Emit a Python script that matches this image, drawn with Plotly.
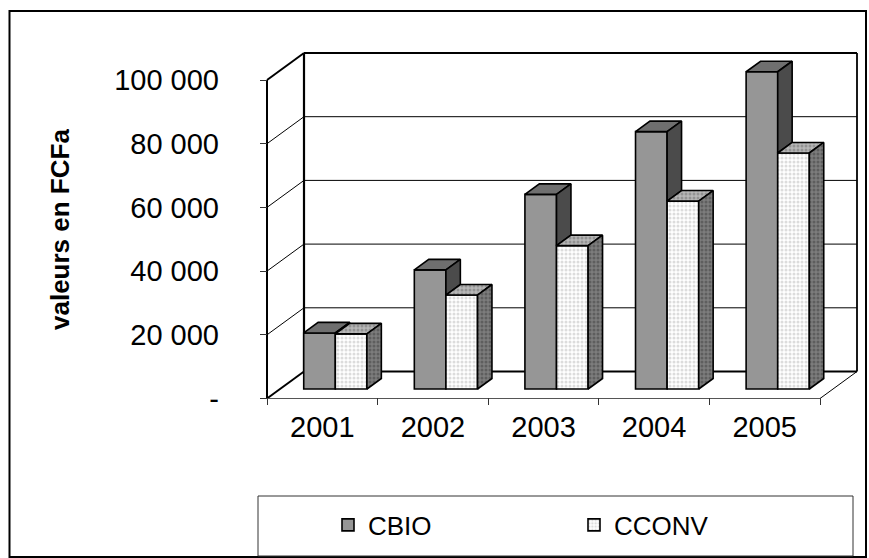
import plotly.graph_objects as go

# ---- data -------------------------------------------------------------
years = ["2001", "2002", "2003", "2004", "2005"]
series_names = ["CBIO", "CCONV"]
cbio = [17600, 37400, 61100, 80800, 99600]
cconv = [17300, 29500, 45000, 59000, 74100]
y_ticks = [0, 20000, 40000, 60000, 80000, 100000]
y_tick_text = ["-", "20 000", "40 000", "60 000", "80 000", "100 000"]

# ---- geometry of the oblique 3-D frame (pixels) -------------------------
W, H = 869, 558
X0_PX, Y0_PX = 267, 398.5          # front-left corner of the floor
CAT_PX = 110.6                     # one category on the front edge
UNIT_PX = 318.5 / 100000           # pixels per FCFa
DEPTH_PX = (37, 27)                # offset of the back wall
L, R, T, B = 260, 864, 48, 405     # plot area

DX = DEPTH_PX[0] / CAT_PX          # depth offset in category units
DY = DEPTH_PX[1] / UNIT_PX         # depth offset in value units
x_range = [(L - X0_PX) / CAT_PX, (R - X0_PX) / CAT_PX]
y_range = [(Y0_PX - B) / UNIT_PX, (Y0_PX - T) / UNIT_PX]

F_FRONT = 0.352                    # depth of the bar front faces
F_BACK = F_FRONT + 0.39            # depth of the bar back faces
BAR_W = 1 / 3.5                    # bar width (gap width 150 %)
N = len(years)
VMAX = 100000


def px_to_paper(xp, yp):
    return (xp - L) / (R - L), (B - yp) / (B - T)


def proj(x, y, f):
    return x + f * DX, y + f * DY


FONT = "Liberation Sans, Arial, sans-serif"
TICK_SIZE = 29
EDGE = "black"

styles = {
    "CBIO": dict(front="#969696", top="#6f6f6f", side="#4b4b4b", pattern=None),
    "CCONV": dict(front="#ffffff", top="#b8b8b8", side="#7d7d7d",
                  pattern=dict(front="#dcdcdc", top="#929292", side="#5e5e5e")),
}

fig = go.Figure()

values = {"CBIO": cbio, "CCONV": cconv}

# front faces (also used for the legend)
for s, name in enumerate(series_names):
    st = styles[name]
    xs = [i + 0.5 + (s - 0.5) * BAR_W + F_FRONT * DX for i in range(N)]
    marker = dict(color=st["front"], line=dict(color=EDGE, width=1.6))
    if st["pattern"]:
        marker["pattern"] = dict(shape=".", size=4, solidity=0.45,
                                 fgcolor=st["pattern"]["front"], bgcolor=st["front"],
                                 fillmode="replace")
    fig.add_trace(go.Bar(x=xs, y=values[name], base=F_FRONT * DY, width=BAR_W,
                         name=name, marker=marker, hoverinfo="skip"))

# top and side faces
for s, name in enumerate(series_names):
    st = styles[name]
    tops_x, tops_y, side_x, side_y = [], [], [], []
    for i in range(N):
        v = values[name][i]
        xl = i + 0.5 + (s - 1) * BAR_W
        xr = xl + BAR_W
        pts = [proj(xl, v, F_FRONT), proj(xr, v, F_FRONT),
               proj(xr, v, F_BACK), proj(xl, v, F_BACK), proj(xl, v, F_FRONT)]
        tops_x += [p[0] for p in pts] + [None]
        tops_y += [p[1] for p in pts] + [None]
        # only the part of the side that rises above the neighbour is visible
        lo = 0
        if s == 0:
            lo = min(v, cconv[i])
        if v > lo:
            pts = [proj(xr, lo, F_FRONT), proj(xr, v, F_FRONT),
                   proj(xr, v, F_BACK), proj(xr, lo, F_BACK), proj(xr, lo, F_FRONT)]
            side_x += [p[0] for p in pts] + [None]
            side_y += [p[1] for p in pts] + [None]
    for xs, ys, key in ((tops_x, tops_y, "top"), (side_x, side_y, "side")):
        kw = {}
        if st["pattern"]:
            kw["fillpattern"] = dict(shape=".", size=4, solidity=0.45,
                                     fgcolor=st["pattern"][key], bgcolor=st[key],
                                     fillmode="replace")
        fig.add_trace(go.Scatter(x=xs, y=ys, mode="lines", fill="toself",
                                 fillcolor=st[key], line=dict(color=EDGE, width=1.6),
                                 showlegend=False, hoverinfo="skip", **kw))

# ---- walls, floor and gridlines -----------------------------------------
shapes = []


def seg(p, q, width=1.0, color="black"):
    shapes.append(dict(type="line", xref="x", yref="y", layer="below",
                       x0=p[0], y0=p[1], x1=q[0], y1=q[1],
                       line=dict(color=color, width=width)))


for v in y_ticks[1:-1]:
    seg(proj(0, v, 0), proj(0, v, 1), 1)
    seg(proj(0, v, 1), proj(N, v, 1), 1)
# left wall
seg(proj(0, 0, 0), proj(0, VMAX, 0), 2)
seg(proj(0, VMAX, 0), proj(0, VMAX, 1), 2)
seg(proj(0, 0, 0), proj(0, 0, 1), 2)
# back wall
seg(proj(0, 0, 1), proj(0, VMAX, 1), 2.2)
seg(proj(0, VMAX, 1), proj(N, VMAX, 1), 2.2)
seg(proj(N, 0, 1), proj(N, VMAX, 1), 1.8)
seg(proj(0, 0, 1), proj(N, 0, 1), 2)
# floor
seg(proj(0, 0, 0), proj(N, 0, 0), 1.2, "#555555")
seg(proj(N, 0, 0), proj(N, 0, 1), 1)

# chart border and legend frame
bx0, by0 = px_to_paper(9.5, 11)
bx1, by1 = px_to_paper(866, 557)
shapes.append(dict(type="rect", xref="paper", yref="paper", x0=bx0, y0=by0, x1=bx1, y1=by1,
                   line=dict(color="black", width=2)))
lx0, ly0 = px_to_paper(258, 496)
lx1, ly1 = px_to_paper(853, 556)
shapes.append(dict(type="rect", xref="paper", yref="paper", x0=lx0, y0=ly0, x1=lx1, y1=ly1,
                   line=dict(color="#333333", width=1)))

tx, ty = px_to_paper(60, 229)
leg_x, leg_y = px_to_paper(328, 525)

fig.update_layout(
    width=W, height=H,
    margin=dict(l=L, r=W - R, t=T, b=H - B, autoexpand=False),
    paper_bgcolor="white", plot_bgcolor="white",
    font=dict(family=FONT, color="black", size=TICK_SIZE),
    shapes=shapes,
    barmode="overlay",
    showlegend=True,
    legend=dict(orientation="h", x=leg_x, y=leg_y, xanchor="left", yanchor="middle",
                bgcolor="rgba(0,0,0,0)", borderwidth=0, entrywidth=201,
                font=dict(family=FONT, size=26, color="black"), traceorder="normal"),
    annotations=[dict(text="<b>valeurs en FCFa</b>", xref="paper", yref="paper",
                      x=tx, y=ty, xanchor="center", yanchor="middle",
                      textangle=-90, showarrow=False,
                      font=dict(family=FONT, size=26, color="black"))],
    xaxis=dict(range=x_range, showgrid=False, zeroline=False, showline=False,
               tickmode="array", tickvals=[i + 0.5 for i in range(N)], ticktext=years,
               ticks="", ticklabelstandoff=2,
               minor=dict(tickmode="array", tickvals=list(range(N + 1)), ticks="inside",
                          ticklen=7, tickwidth=1, tickcolor="#333333", showgrid=False),
               tickfont=dict(family=FONT, size=TICK_SIZE)),
    yaxis=dict(range=y_range, showgrid=False, zeroline=False, showline=False,
               tickmode="array", tickvals=y_ticks, ticktext=y_tick_text,
               ticks="inside", ticklen=7, tickwidth=1, tickcolor="#333333",
               ticklabelstandoff=40, tickfont=dict(family=FONT, size=TICK_SIZE)),
)

fig.write_html("out.html")
